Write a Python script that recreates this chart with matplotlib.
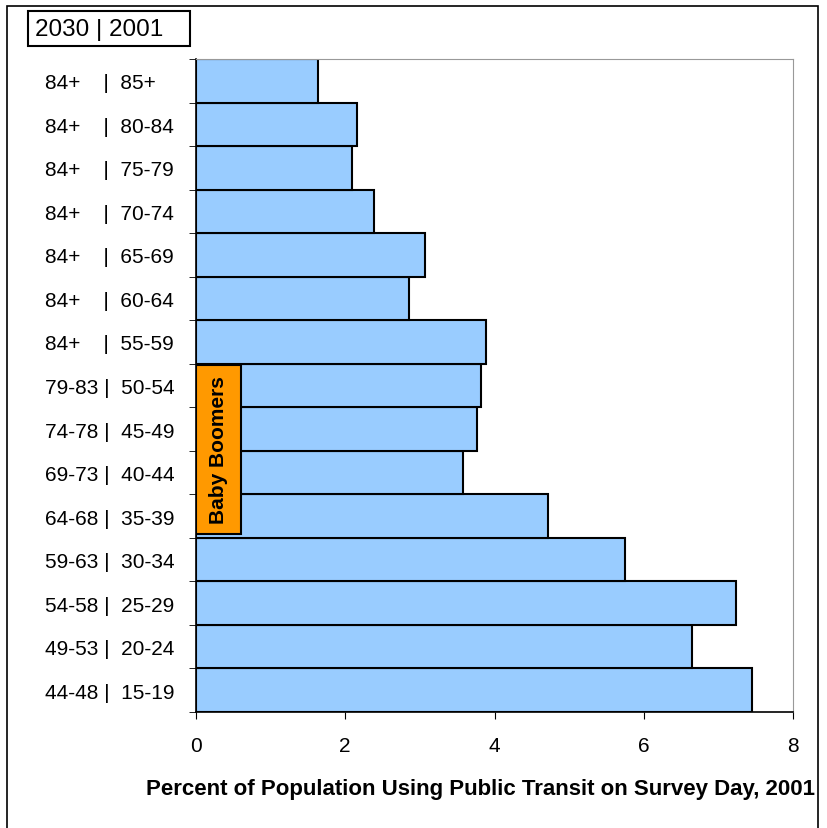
import numpy as np
import matplotlib.pyplot as plt
from matplotlib.patches import Rectangle

plt.rcParams['font.family'] = ['Liberation Sans', 'DejaVu Sans']

# age groups, bottom to top (2030 cohort | 2001 cohort)
labels = ['44-48 |  15-19', '49-53 |  20-24', '54-58 |  25-29', '59-63 |  30-34',
          '64-68 |  35-39', '69-73 |  40-44', '74-78 |  45-49', '79-83 |  50-54',
          '84+    |  55-59', '84+    |  60-64', '84+    |  65-69', '84+    |  70-74',
          '84+    |  75-79', '84+    |  80-84', '84+    |  85+']
# percent using public transit on survey day, 2001
pct = [7.45, 6.65, 7.24, 5.75, 4.72, 3.58, 3.76, 3.82,
       3.88, 2.86, 3.07, 2.38, 2.09, 2.16, 1.63]

fig = plt.figure(figsize=(8.27, 8.29), dpi=100)
ax = fig.add_axes([196/827, 1 - 713/829, 597/827, 653/829])

y = np.arange(len(labels))
ax.barh(y, pct, height=1.0, color='#99CCFF', edgecolor='black', linewidth=1.5)

ax.set_xlim(0, 8)
ax.set_ylim(-0.5, len(labels) - 0.5)
ax.set_xticks([0, 2, 4, 6, 8])
ax.tick_params(axis='x', labelsize=15, length=5, direction='out', pad=12)

# labels at bar centres, tick marks at bar boundaries
ax.set_yticks(y)
ax.set_yticklabels(labels)
ax.set_yticks(np.arange(len(labels) + 1) - 0.5, minor=True)
ax.tick_params(axis='y', which='major', length=0, labelsize=15, pad=109)
ax.tick_params(axis='y', which='minor', length=5, direction='out')
for t in ax.get_yticklabels():
    t.set_horizontalalignment('left')

for side in ['top', 'right']:
    ax.spines[side].set_color('#999999')
for side in ['left', 'bottom']:
    ax.spines[side].set_color('black')
    ax.spines[side].set_linewidth(1.2)

ax.set_xlabel('Percent of Population Using Public Transit on Survey Day, 2001',
              fontsize=16, fontweight='bold', labelpad=17, x=0.476)

# Baby Boomers marker
ax.add_patch(Rectangle((0, 3.6), 0.6, 3.88, facecolor='#FF9900',
                       edgecolor='black', linewidth=1.5, zorder=3))
ax.text(0.3, 5.54, 'Baby Boomers', rotation=90, ha='center', va='center',
        fontsize=15, fontweight='bold', zorder=4)

# header box
fig.patches.append(Rectangle((28/827, 1 - 47/829), 162/827, 35/829,
                             transform=fig.transFigure, facecolor='white',
                             edgecolor='black', linewidth=1.5))
fig.text(35/827, 1 - 30/829, '2030 | 2001', fontsize=17.5, va='center', ha='left')

# outer frame
fig.patches.append(Rectangle((7/827, -0.01), 811/827, 1 - 7/829 + 0.01,
                             transform=fig.transFigure, fill=False,
                             edgecolor='black', linewidth=1.2))

fig.savefig('out.png', dpi=100)
